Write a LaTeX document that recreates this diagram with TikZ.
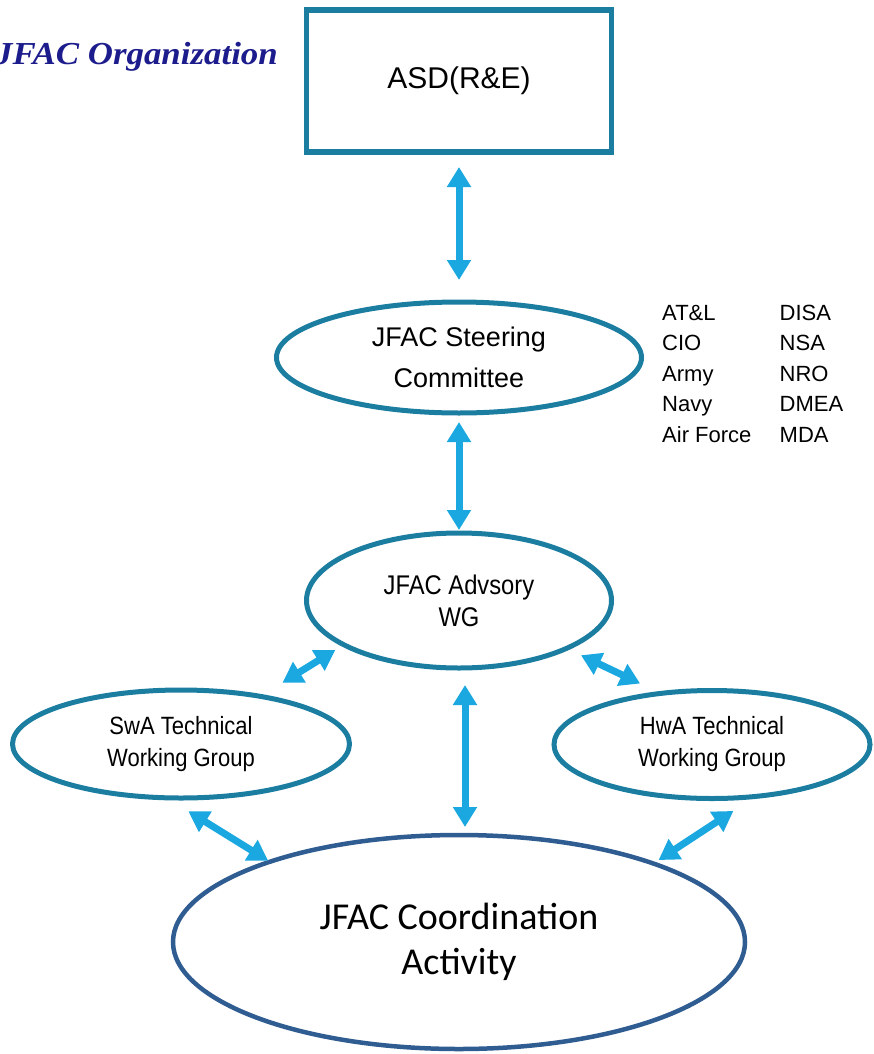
\documentclass[tikz,border=0pt]{standalone}
\usepackage{fontspec}
\setmainfont{Liberation Sans}
\newfontfamily\condsans[FakeStretch=0.88]{Liberation Sans}
\newfontfamily\calibrifont{Carlito}
\newfontfamily\titleserif[FakeStretch=1.09]{Liberation Serif}
\usetikzlibrary{shapes.geometric,arrows.meta}

\definecolor{frame}{RGB}{27,125,160}
\definecolor{coordblue}{RGB}{47,92,145}
\definecolor{arrowblue}{RGB}{27,168,224}
\definecolor{titlenavy}{RGB}{28,28,140}

\begin{document}
\begin{tikzpicture}[x=1pt,y=-1pt,
  box/.style={draw=frame,line width=5.5pt,inner sep=0pt,outer sep=0pt,
    minimum width=305pt,minimum height=142pt},
  oval/.style={ellipse,draw=frame,line width=5pt,inner sep=0pt,outer sep=0pt,align=center},
  link/.style={draw=arrowblue,line width=7pt,
    {Triangle[length=20pt,width=23pt]}-{Triangle[length=20pt,width=23pt]}},
  member/.style={anchor=base west,inner sep=0pt,font=\fontsize{22}{26}\selectfont},
]
\useasboundingbox (0,0) rectangle (873,1054);

% title
\node[anchor=base east,inner sep=0pt,text=titlenavy,
  font=\titleserif\bfseries\itshape\fontsize{32}{36}\selectfont]
  (title) at (278,65) {JFAC Organization};

% boxes and ovals
\node[box,font=\fontsize{30}{34}\selectfont] (asd) at (459,81) {ASD(R\&E)};
\node[oval,minimum width=365pt,minimum height=111pt,
  font=\fontsize{27}{41}\selectfont] (steer) at (459,357.5)
  {JFAC Steering\\Committee};
\node[oval,minimum width=305pt,minimum height=135pt,
  font=\condsans\fontsize{27}{32}\selectfont] (adv) at (459,600.5)
  {JFAC Advsory\\WG};
\node[oval,minimum width=337pt,minimum height=108pt,
  font=\condsans\fontsize{25}{32}\selectfont] (swa) at (181,744)
  {SwA Technical\\Working Group};
\node[oval,minimum width=316pt,minimum height=108pt,
  font=\condsans\fontsize{25}{32}\selectfont] (hwa) at (712,744.5)
  {HwA Technical\\Working Group};
\node[oval,draw=coordblue,line width=4.5pt,minimum width=572pt,minimum height=214pt,
  font=\calibrifont\fontsize{38}{45}\selectfont] (coord) at (459,942)
  {JFAC Coordination\\Activity};

% steering committee members
\foreach \t/\b [count=\i] in {AT\&L/320,CIO/350.5,Army/381,Navy/411.5,Air Force/442}
  \node[member] (ml\i) at (662,\b) {\t};
\foreach \t/\b [count=\i] in {DISA/320,NSA/350.5,NRO/381,DMEA/411.5,MDA/442}
  \node[member] (mr\i) at (779.5,\b) {\t};

% connectors
\draw[link,shorten <=15pt,shorten >=22pt] (asd.south) -- (steer.north);
\draw[link,shorten <=9pt,shorten >=3pt] (steer.south) -- (adv.north);
\draw[link,shorten <=17pt,shorten >=8pt] ([xshift=6pt]adv.south) -- ([xshift=6pt]coord.north);
\draw[link,shorten <=26pt,shorten >=10pt] (swa.31.4) -- (adv.201.9);
\draw[link,shorten <=16pt,shorten >=23pt] (adv.336.5) -- (hwa.135.6);
\draw[link,shorten <=25.6pt,shorten >=2pt] (swa.255.5) -- (coord.157.6);
\draw[link,shorten <=26.5pt,shorten >=6.3pt] (hwa.310.1) -- (coord.22);
\end{tikzpicture}
\end{document}
